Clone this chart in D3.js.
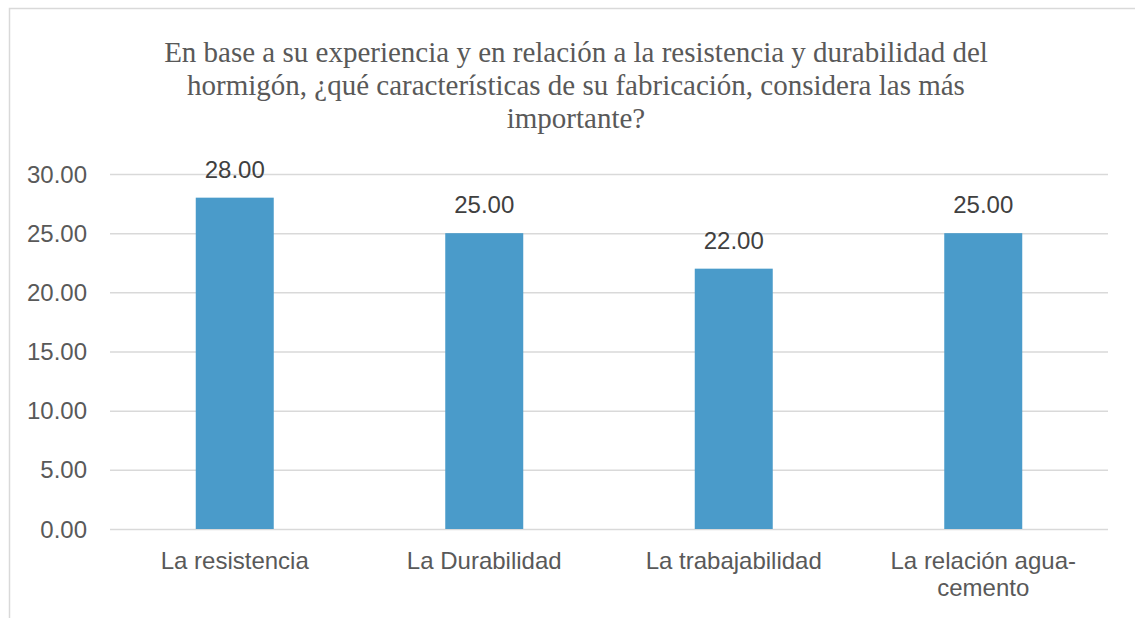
<!DOCTYPE html>
<html>
<head>
<meta charset="utf-8">
<script src="https://cdn.jsdelivr.net/npm/d3@7"></script>
<style>
  body { margin: 0; background: #fff; }
  svg { display: block; }
</style>
</head>
<body>
<svg width="1135" height="618"></svg>
<script>
var categories = [["La resistencia"], ["La Durabilidad"], ["La trabajabilidad"], ["La relación agua-", "cemento"]];
var values = [28, 25, 22, 25];
var yTicks = [0, 5, 10, 15, 20, 25, 30];
var titleLines = [
    "En base a su experiencia y en relación a la resistencia y durabilidad del",
    "hormigón, ¿qué características de su fabricación, considera las más",
    "importante?"
];

function main() {
    var svg = d3.select("svg");
    var sans = "'Liberation Sans', Arial, Helvetica, sans-serif";

    // chart frame (cropped on right and bottom)
    svg.append("rect")
        .attr("x", 9.5).attr("y", 8.5)
        .attr("width", 1200).attr("height", 700)
        .attr("fill", "#fff")
        .attr("stroke", "#d9d9d9")
        .attr("stroke-width", 1.5);

    svg.append("text")
        .attr("x", 576)
        .attr("y", 62)
        .attr("text-anchor", "middle")
        .style("font-family", "'Liberation Serif', 'Times New Roman', Times, 'DejaVu Serif', serif")
        .attr("font-size", "29px")
        .attr("fill", "#595959")
        .selectAll("tspan")
        .data(titleLines)
        .enter().append("tspan")
        .attr("x", 576)
        .attr("dy", function(d, i){ return i === 0 ? 0 : 33; })
        .text(function(d){ return d; });

    var x0 = 110, x1 = 1108, yTop = 174, yBottom = 529;

    var xScale = d3.scaleBand()
        .domain(categories.map(function(d){ return d.join(" "); }))
        .range([x0, x1])
        .paddingInner(0.6874)
        .paddingOuter(0.3437);
    var yScale = d3.scaleLinear().domain([0, 30]).range([yBottom, yTop]);

    // gridlines
    svg.append("g")
        .attr("transform", "translate(" + x0 + ",0)")
        .call(d3.axisLeft(yScale).tickValues(yTicks).tickSize(-(x1 - x0)).tickFormat(""))
        .call(function(g){ g.select(".domain").remove(); })
        .selectAll("line")
        .attr("stroke", "#d9d9d9")
        .attr("stroke-width", 1.5);

    // y labels
    svg.append("g")
        .selectAll("text")
        .data(yTicks)
        .enter().append("text")
        .attr("x", 87)
        .attr("y", function(d){ return yScale(d) + 8.5; })
        .attr("text-anchor", "end")
        .attr("font-family", sans)
        .attr("font-size", "24px")
        .attr("fill", "#595959")
        .text(function(d){ return d.toFixed(2); });

    svg.selectAll(".bar")
        .data(values)
        .enter().append("rect")
        .attr("class", "bar")
        .attr("x", function(d, i){ return xScale(categories[i].join(" ")); })
        .attr("y", function(d){ return yScale(d); })
        .attr("width", xScale.bandwidth())
        .attr("height", function(d){ return yBottom - yScale(d); })
        .attr("fill", "#4a9bca");

    svg.selectAll(".lbl")
        .data(values)
        .enter().append("text")
        .attr("class", "lbl")
        .attr("x", function(d, i){ return xScale(categories[i].join(" ")) + xScale.bandwidth() / 2; })
        .attr("y", function(d){ return yScale(d) - 20; })
        .attr("text-anchor", "middle")
        .attr("font-family", sans)
        .attr("font-size", "24px")
        .attr("fill", "#404040")
        .text(function(d){ return d.toFixed(2); });

    // category labels
    categories.forEach(function(lines, i){
        var cx = xScale(lines.join(" ")) + xScale.bandwidth() / 2;
        svg.append("text")
            .attr("text-anchor", "middle")
            .attr("font-family", sans)
            .attr("font-size", "24px")
            .attr("fill", "#595959")
            .selectAll("tspan")
            .data(lines)
            .enter().append("tspan")
            .attr("x", cx)
            .attr("y", function(d, j){ return 569 + j * 27; })
            .text(function(d){ return d; });
    });
}

main();
</script>
</body>
</html>
